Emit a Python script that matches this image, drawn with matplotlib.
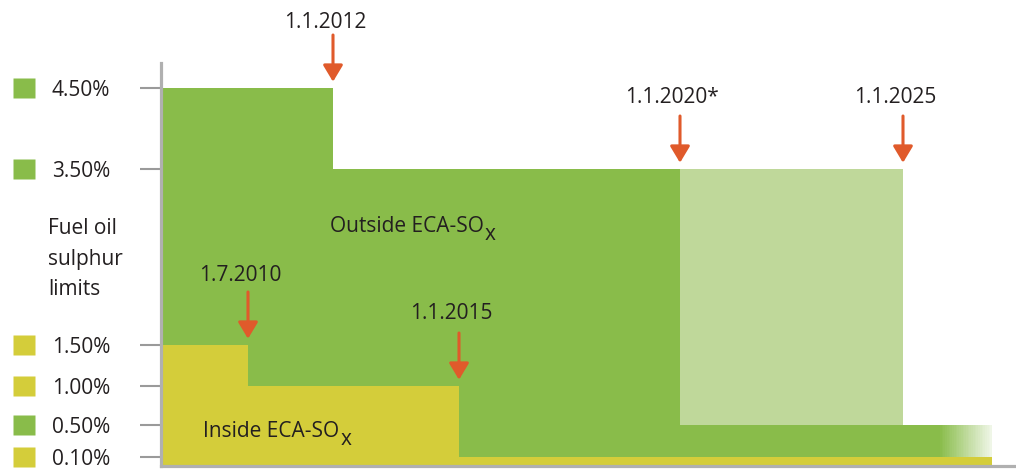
import numpy as np
import matplotlib
matplotlib.use('Agg')
import matplotlib.pyplot as plt
from matplotlib.path import Path
from matplotlib import transforms

plt.rcParams['font.family'] = ['Open Sans', 'DejaVu Sans']

# --- data -------------------------------------------------------------
outside_dates = [2009, 2012, 2020, 2027]
outside_limit = [4.5, 3.5, 0.5, 0.5]
inside_dates = [2009, 2010.5, 2015, 2027]
inside_limit = [1.5, 1.0, 0.1, 0.1]
# possible postponement of the global 0.5% cap
alt_start, alt_end = 2020, 2025
alt_low, alt_high = 0.5, 3.5

event_labels = ['1.7.2010', '1.1.2012', '1.1.2015', '1.1.2020*', '1.1.2025']
event_dates = [2010.5, 2012, 2015, 2020, 2025]
event_levels = [1.5, 4.5, 1.0, 3.5, 3.5]

tick_vals = [4.5, 3.5, 1.5, 1.0, 0.5, 0.1]
tick_labels = ['4.50%', '3.50%', '1.50%', '1.00%', '0.50%', '0.10%']
tick_kind = ['out', 'out', 'in', 'in', 'out', 'in']

GREEN = '#89bc4a'
LIGHT = '#bfd89a'
YELLOW = '#d4cd3a'
ARROW = '#e05a2b'
TXT = '#231f20'

label_dy = [70, 66, 73, 72, 72]  # label height above the level, px

# schematic (non linear) axes of the original drawing
xa = np.array([2009, 2010.5, 2012, 2015, 2020, 2025, 2027, 2028])
xp = np.array([161, 248, 333, 459, 680, 903, 992, 1036], float)
ya = np.array([0, 0.1, 0.5, 1.0, 1.5, 3.5, 4.5, 5.0])
yp = np.array([466, 457, 425, 386, 345, 169, 88, 48], float)

def xfwd(v):
    return np.interp(np.asarray(v, float), xa, xp)

def xinv(p):
    return np.interp(np.asarray(p, float), xp, xa)

def yfwd(v):
    return -np.interp(np.asarray(v, float), ya, yp)

def yinv(u):
    return np.interp(np.asarray(u, float), -yp, ya)

fig = plt.figure(figsize=(10.16, 4.69), dpi=100)
ax = fig.add_axes([161/1016, 3/469, 855/1016, (466-63)/469])
ax.set_xscale('function', functions=(xfwd, xinv))
ax.set_yscale('function', functions=(yfwd, yinv))
ax.set_xlim(2009, float(xinv(1016)))
ax.set_ylim(0, float(yinv(-63)))

# outside ECA
fade_start = float(xinv(940))
ax.fill_between(outside_dates, outside_limit, 0, step='post', color=GREEN, lw=0, zorder=1)
ax.fill_between([alt_start, alt_end], alt_low, alt_high, color=LIGHT, lw=0, zorder=2)
# fade at the right end
g = np.array(matplotlib.colors.to_rgb(GREEN))
edges = np.linspace(fade_start, outside_dates[-1], 31)
for i in range(30):
    t = 0.88 * (i + 0.5) / 30
    ax.fill_between([edges[i], edges[i+1]], 0, outside_limit[-1],
                    color=g*(1-t) + t, lw=0, zorder=2)
# inside ECA
ax.fill_between(inside_dates, inside_limit, 0, step='post', color=YELLOW, lw=0, zorder=3)


def sox_label(x, y, head):
    t = ax.text(x, y, head + 'SO', fontsize=15, color=TXT, ha='left',
                va='baseline', zorder=5)
    ax.annotate('x', xy=(1, 0), xycoords=t, xytext=(1, -8),
                textcoords='offset pixels', fontsize=15, color=TXT,
                ha='left', va='bottom', zorder=5)


sox_label(float(xinv(330)), 2.78, 'Outside ECA-')
sox_label(float(xinv(203)), 0.35, 'Inside ECA-')

for lbl, d, lv, dy in zip(event_labels, event_dates, event_levels, label_dy):
    ax.annotate('', xy=(d, lv), xytext=(0, 53), textcoords='offset pixels',
                arrowprops=dict(arrowstyle='-|>,head_length=10,head_width=6',
                                mutation_scale=1, color=ARROW, lw=2.2,
                                shrinkA=0, shrinkB=4.5), zorder=6)
    ax.annotate(lbl, xy=(d, lv), xytext=(-8, dy), textcoords='offset pixels',
                ha='center', va='center', fontsize=15, color=TXT, zorder=6)

ax.set_xticks([])
ax.set_yticks(tick_vals)
ax.set_yticklabels(tick_labels)
ax.tick_params(axis='y', length=15, width=1.5, color='#9a9a9a', pad=21.5,
               labelsize=15, labelcolor=TXT)
for s in ['top', 'right']:
    ax.spines[s].set_visible(False)
for s in ['left', 'bottom']:
    ax.spines[s].set_color('#b0b0b0')
    ax.spines[s].set_linewidth(2.3)
    ax.spines[s].set_zorder(7)

# coloured squares next to the tick labels
box = Path([(-1.2, -1), (1.2, -1), (1.2, 1), (-1.2, 1), (-1.2, -1)], closed=True)
trans = transforms.blended_transform_factory(ax.transAxes, ax.transData)
for v, k in zip(tick_vals, tick_kind):
    ax.plot([(23.5 - 161) / 855], [v], marker=box, markersize=16.5,
            color=GREEN if k == 'out' else YELLOW,
            mec='none', transform=trans, clip_on=False)

fig.text(48/1016, 1 - 259/469, 'Fuel oil\nsulphur\nlimits', ha='left', va='center',
         fontsize=15, color=TXT, linespacing=1.6)

fig.savefig('out.png', dpi=100)
